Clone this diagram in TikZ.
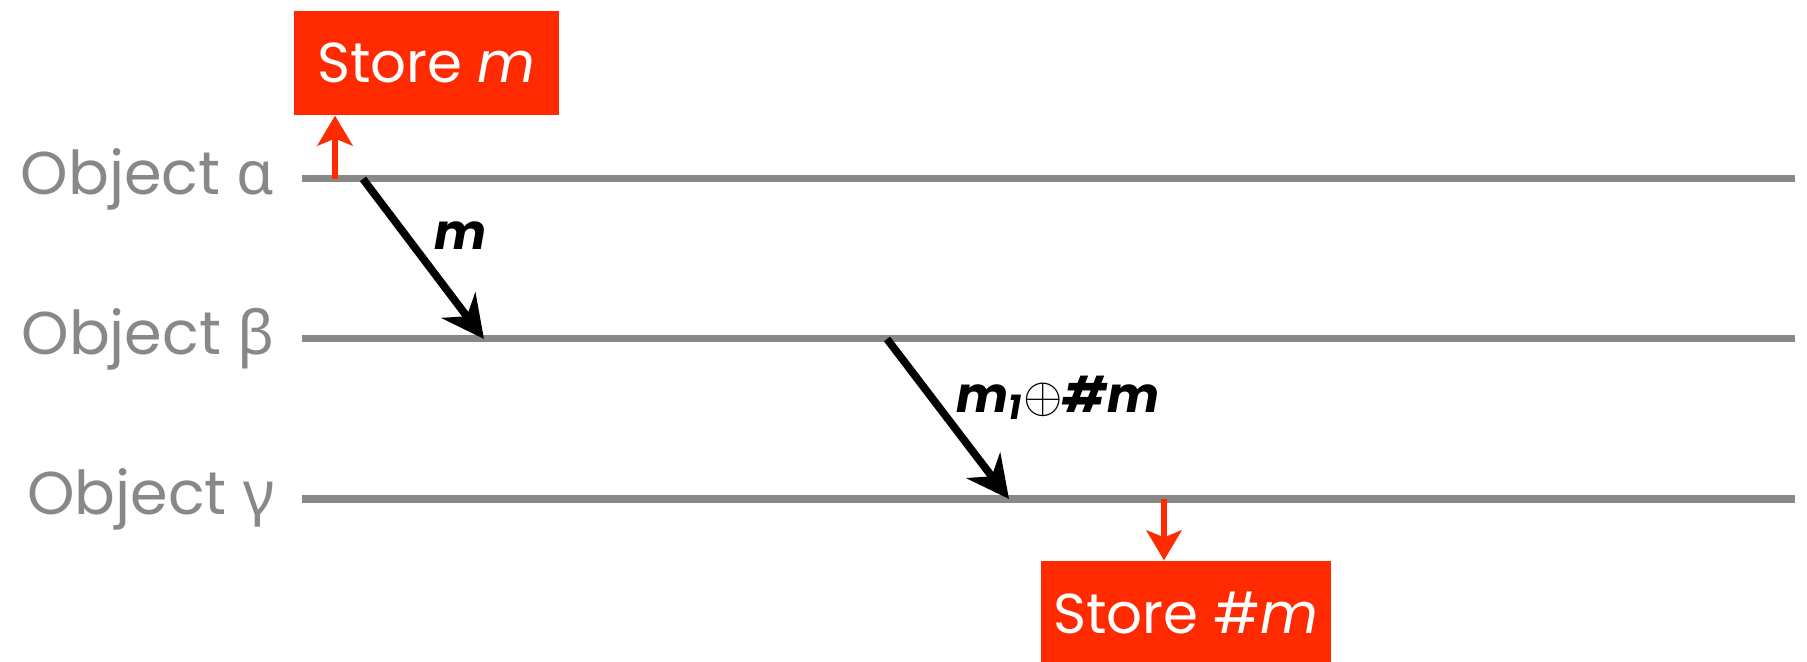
\documentclass[tikz,border=0pt]{standalone}
\usepackage{fontspec}
\setsansfont{Poppins}
\newfontfamily\greekfont{Noto Sans}
\usetikzlibrary{arrows.meta,positioning}
\definecolor{lineGray}{HTML}{888888}
\definecolor{storeRed}{HTML}{FF2A00}

\begin{document}
\begin{tikzpicture}[
  every node/.style={font=\sffamily},
  object/.style={
    font=\sffamily\fontsize{17.2}{20}\selectfont, text=lineGray,
    anchor=east, inner sep=0pt,
  },
  store/.style={
    font=\sffamily\fontsize{16}{19}\selectfont, text=white, fill=storeRed,
    inner sep=0pt, minimum height=1.04cm,
  },
  msglabel/.style={font=\sffamily\bfseries\itshape\fontsize{14}{16}\selectfont},
  lifeline/.style={lineGray, line width=2pt},
  msg/.style={-{Stealth[length=12pt,width=12pt]}, line width=2.2pt},
  save/.style={-{Stealth[length=8.5pt,width=10pt,inset=2pt]}, storeRed, line width=1.8pt},
]
\useasboundingbox (0,0) rectangle (18.07,6.62);

% === Objects and their lifelines ===
\node[object] (alpha) at (2.75,4.83) {Object {\greekfont α}};
\node[object] (beta) at (2.75,3.23) {Object {\greekfont β}};
\node[object] (gamma) at (2.75,1.63) {Object {\greekfont γ}};

\coordinate (alphaL) at (3.02,4.83);
\coordinate (alphaR) at (17.95,4.83);
\coordinate (betaL) at (3.02,3.23);
\coordinate (betaR) at (17.95,3.23);
\coordinate (gammaL) at (3.02,1.63);
\coordinate (gammaR) at (17.95,1.63);

\draw[lifeline] (alphaL) -- (alphaR);
\draw[lifeline] (betaL) -- (betaR);
\draw[lifeline] (gammaL) -- (gammaR);

% === Stores ===
\node[store, minimum width=2.65cm] (storeM) at (4.265,5.99) {Store \textit{m}};
\node[store, minimum width=2.90cm] (storeH) at (11.86,0.49) {Store \#\textit{m}};

\coordinate (saveA) at (3.35,4.83);
\coordinate (saveG) at (11.64,1.63);
\draw[save] (saveA) -- (saveA |- storeM.south);
\draw[save] (saveG) -- (saveG |- storeH.north);

% === Messages ===
\coordinate (sendA) at (3.63,4.83);
\coordinate (recvB) at (4.84,3.23);
\coordinate (sendB) at (8.87,3.23);
\coordinate (recvG) at (10.09,1.63);

\draw[msg] (sendA) -- (recvB);
\draw[msg] (sendB) -- (recvG);

\node[msglabel] (labelM) at (4.61,4.26) {m};
\node[msglabel] (labelH) at (10.58,2.64) {m\textsubscript{1}{\mdseries\upshape$\oplus$}\#m};

\end{tikzpicture}
\end{document}
